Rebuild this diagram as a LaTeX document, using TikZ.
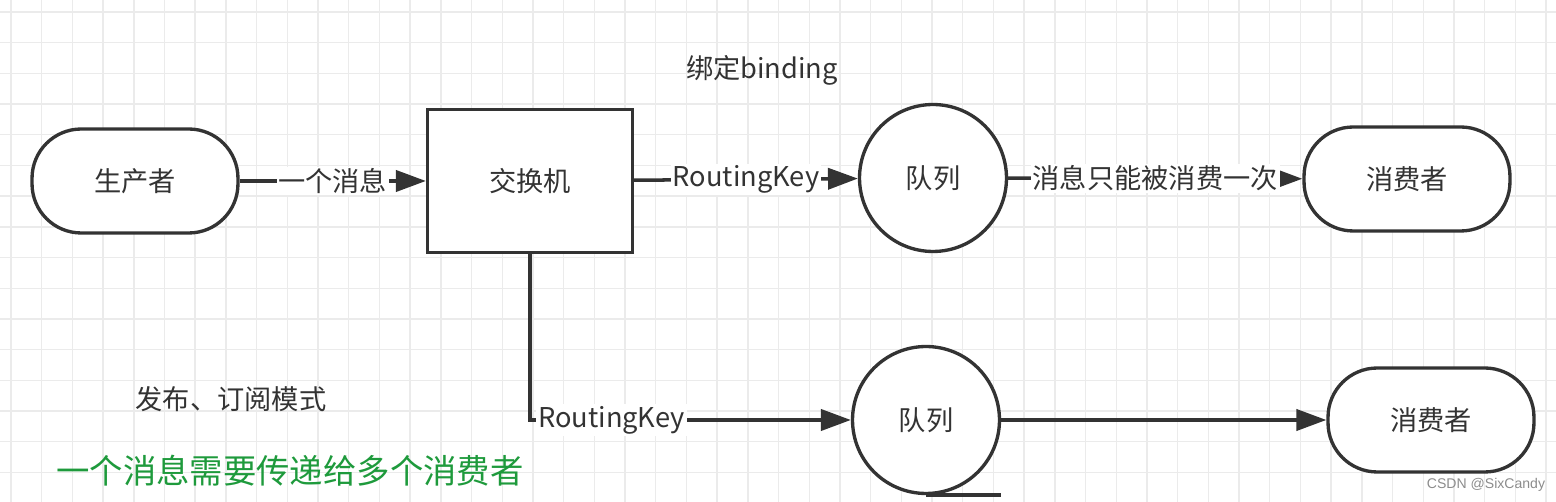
\documentclass[tikz,border=0pt]{standalone}
\usepackage{fontspec}
\setmainfont{Noto Sans CJK SC}
\newfontfamily\wmfont{Liberation Sans}
\usetikzlibrary{arrows.meta}
\usetikzlibrary{calc}
\definecolor{ink}{HTML}{333333}
\definecolor{gridgray}{HTML}{EBEBEB}
\definecolor{notegreen}{HTML}{1E9A3C}

\begin{document}
\begin{tikzpicture}[x=0.02cm,y=-0.02cm,>={Triangle[length=17pt,width=12pt]},
		font=\fontsize{15.5pt}{18pt}\selectfont, text=ink]
	\tikzset{terminal/.style = {shape=rectangle, rounded corners=28pt, draw=ink, fill=white, line width=1.9pt, minimum width=4.12cm, minimum height=2.08cm}}
	\tikzset{exchbox/.style = {shape=rectangle, draw=ink, fill=white, line width=1.9pt, minimum width=4.1cm, minimum height=2.86cm}}
	\tikzset{queue/.style = {shape=circle, draw=ink, fill=white, line width=1.9pt, minimum size=2.94cm}}
	\tikzset{flow/.style = {draw=ink, line width=2pt}}
	\tikzset{edgelabel/.style = {fill=white, inner sep=1pt}}
	\tikzset{gridline/.style = {draw=gridgray, line width=0.8pt}}
	\useasboundingbox (0,0) rectangle (1556,502);
	% background grid
	\foreach \i in {0,...,50}
		\draw[gridline] ({11+30.7*\i},0) -- ({11+30.7*\i},502);
	\foreach \j in {0,...,16}
		\draw[gridline] (0,{12+30.7*\j}) -- (1556,{12+30.7*\j});
	
	\node[terminal] (PROD) at (135,181) {生产者};
	\node[exchbox] (EXCH) at (530,181) {交换机};
	\node[queue] (Q1) at (933,178) {队列};
	\node[terminal] (CONS1) at (1407,179) {消费者};
	\node[queue] (Q2) at (926,420) {队列};
	\node[terminal] (CONS2) at (1431,420) {消费者};
	
	\draw[->, flow] (PROD) -- node[edgelabel] {一个消息} (EXCH);
	\draw[->, flow] (EXCH) -- node[edgelabel] {RoutingKey} (Q1);
	\draw[->, flow] (Q1) -- node[edgelabel] {消息只能被消费一次} (CONS1);
	\draw[->, flow] (EXCH.south) |- node[edgelabel, pos=0.627] {RoutingKey} (Q2);
	\draw[->, flow] (Q2) -- (CONS2);
	\draw[flow] (Q2.south) -- (Q2.south -| Q2.east);
	
	\node (BIND) at (762,70) {绑定binding};
	\node (MODE) at (231,399) {发布、订阅模式};
	\node[text=notegreen, font=\fontsize{19pt}{23pt}\selectfont] (NOTE) at (290,471) {一个消息需要传递给多个消费者};
	\node[text=black!45, font=\wmfont\fontsize{8pt}{10pt}\selectfont] (WM) at (1486,485) {CSDN @SixCandy};
\end{tikzpicture}
\end{document}
